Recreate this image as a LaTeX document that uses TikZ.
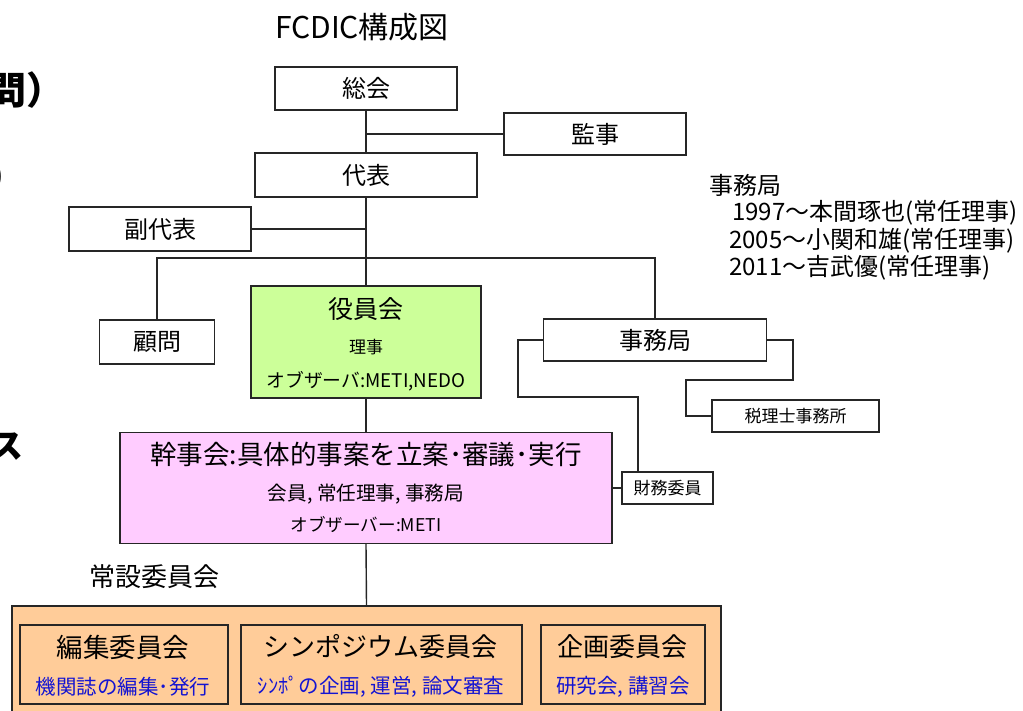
\documentclass[tikz,border=0pt]{standalone}
\usepackage{fontspec}
\setmainfont{Noto Sans CJK JP}
\newcommand\fsz[1]{\fontsize{#1}{#1}\selectfont}
\definecolor{yakuingreen}{HTML}{CCFF99}
\definecolor{kanjipink}{HTML}{FFCCFF}
\definecolor{iinorange}{HTML}{FFCC99}
\definecolor{bluetext}{HTML}{1414D2}
\definecolor{linecol}{HTML}{262626}
\begin{document}
\begin{tikzpicture}[x=1pt,y=-1pt,
  box/.style n args={2}{draw=linecol,line width=1.4pt,inner sep=0pt,
    minimum width=#1,minimum height=#2,font=\fsz{24},text=black},
  lbl/.style={inner sep=0pt,text=black},
  conn/.style={draw=linecol,line width=1.4pt}]
\useasboundingbox (0,0) rectangle (1023,711);
\begin{scope}
\clip (0,0) rectangle (1023,711);
% fragments at the left edge
\node[lbl,anchor=west,font=\bfseries\fsz{38}] (frag1) at (-12,90) {問）};
\node[lbl,anchor=west,font=\bfseries\fsz{36}] (frag2) at (-12,177) {）};
\node[lbl,anchor=east,font=\bfseries\fsz{34}] (frag3) at (24,447) {ス};

\node[lbl,font=\fsz{30}] (title) at (362,27) {FCDIC構成図};

\node[box={182}{43}] (soukai) at (366,88.5) {総会};
\node[box={182}{42}] (kansa) at (595,134) {監事};
\node[box={222}{44}] (daihyo) at (366,175) {代表};
\node[box={182}{44}] (fuku) at (160,229) {副代表};
\node[box={115}{44}] (komon) at (157,342) {顧問};
\node[box={230}{112},fill=yakuingreen] (yakuin) at (366,342) {};
\node[box={223}{42}] (jimu) at (655,340) {事務局};
\node[box={167}{32},font=\fsz{17}] (zeiri) at (795.5,416) {税理士事務所};
\node[box={91}{32},font=\fsz{17}] (zaimu) at (667.5,488) {財務委員};
\node[box={492}{111},fill=kanjipink] (kanjikai) at (366,488) {};
\node[box={709}{114},fill=iinorange] (outer) at (366.5,663) {};
\node[box={208}{79},fill=iinorange] (henshu) at (124,664.5) {};
\node[box={281}{79},fill=iinorange] (sympo) at (381.5,664.5) {};
\node[box={164}{79},fill=iinorange] (kikaku) at (623,664.5) {};

% texts inside boxes
\node[lbl,font=\fsz{25}] (yakuinA) at (366,309) {役員会};
\node[lbl,font=\fsz{17}] (yakuinB) at (366,347) {理事};
\node[lbl,font=\fsz{18.8}] (yakuinC) at (366,381) {オブザーバ:METI,NEDO};
\node[lbl,font=\fsz{26.5}] (kanjiA) at (366,454) {幹事会:具体的事案を立案･審議･実行};
\node[lbl,font=\fsz{19.6}] (kanjiB) at (366,494) {会員, 常任理事, 事務局};
\node[lbl,font=\fsz{17.6}] (kanjiC) at (366,525) {オブザーバー:METI};
\node[lbl,font=\fsz{26}] (joset) at (154,577) {常設委員会};
\node[lbl,font=\fsz{26.5}] (henshuA) at (123,647) {編集委員会};
\node[lbl,font=\fsz{20.5}, text=bluetext] (henshuB) at (123,687) {機関誌の編集･発行};
\node[lbl,font=\fsz{26}] (sympoA) at (380.5,647) {シンポジウム委員会};
\node[lbl,font=\fsz{20.5},text=bluetext] (sympoB) at (381,687) {ｼﾝﾎﾟの企画, 運営, 論文審査};
\node[lbl,font=\fsz{26}] (kikakuA) at (622,647) {企画委員会};
\node[lbl,font=\fsz{20.5},text=bluetext] (kikakuB) at (623,687) {研究会, 講習会};

% secretariat history
\node[lbl,anchor=west,font=\fsz{24}] (histA) at (709,185) {事務局};
\node[lbl,anchor=west,font=\fsz{24}] (histB) at (732,213) {1997～本間琢也(常任理事)};
\node[lbl,anchor=west,font=\fsz{24}] (histC) at (729,241) {2005～小関和雄(常任理事)};
\node[lbl,anchor=west,font=\fsz{24}] (histD) at (729,268) {2011～吉武優(常任理事)};

% connectors
\coordinate (hl) at (157,258);
\coordinate (jl) at (518,397);
\coordinate (zc) at (638,397);
\coordinate (jr) at (793,380);
\coordinate (zr) at (686,380);
\draw[conn] (soukai.south) -- (daihyo.north);
\draw[conn] (soukai.south |- kansa.west) -- (kansa.west);
\draw[conn] (daihyo.south) -- (yakuin.north);
\draw[conn] (fuku.east) -- (fuku.east -| daihyo.south);
\draw[conn] (komon.north) -- (komon.north |- hl) -- (jimu.north |- hl) -- (jimu.north);
\draw[conn] (yakuin.south) -- (kanjikai.north);
\draw[conn] (kanjikai.east) -- (zaimu.west);
\draw[conn] (jimu.west) -- (jimu.west -| jl) -- (jl) -- (zc) -- (zaimu.north -| zc);
\draw[conn] (jimu.east) -- (jimu.east -| jr) -- (jr) -- (zr) -- (zr |- zeiri.west) -- (zeiri.west);
\draw[conn] (kanjikai.south) -- (outer.north);
\end{scope}
\end{tikzpicture}
\end{document}
